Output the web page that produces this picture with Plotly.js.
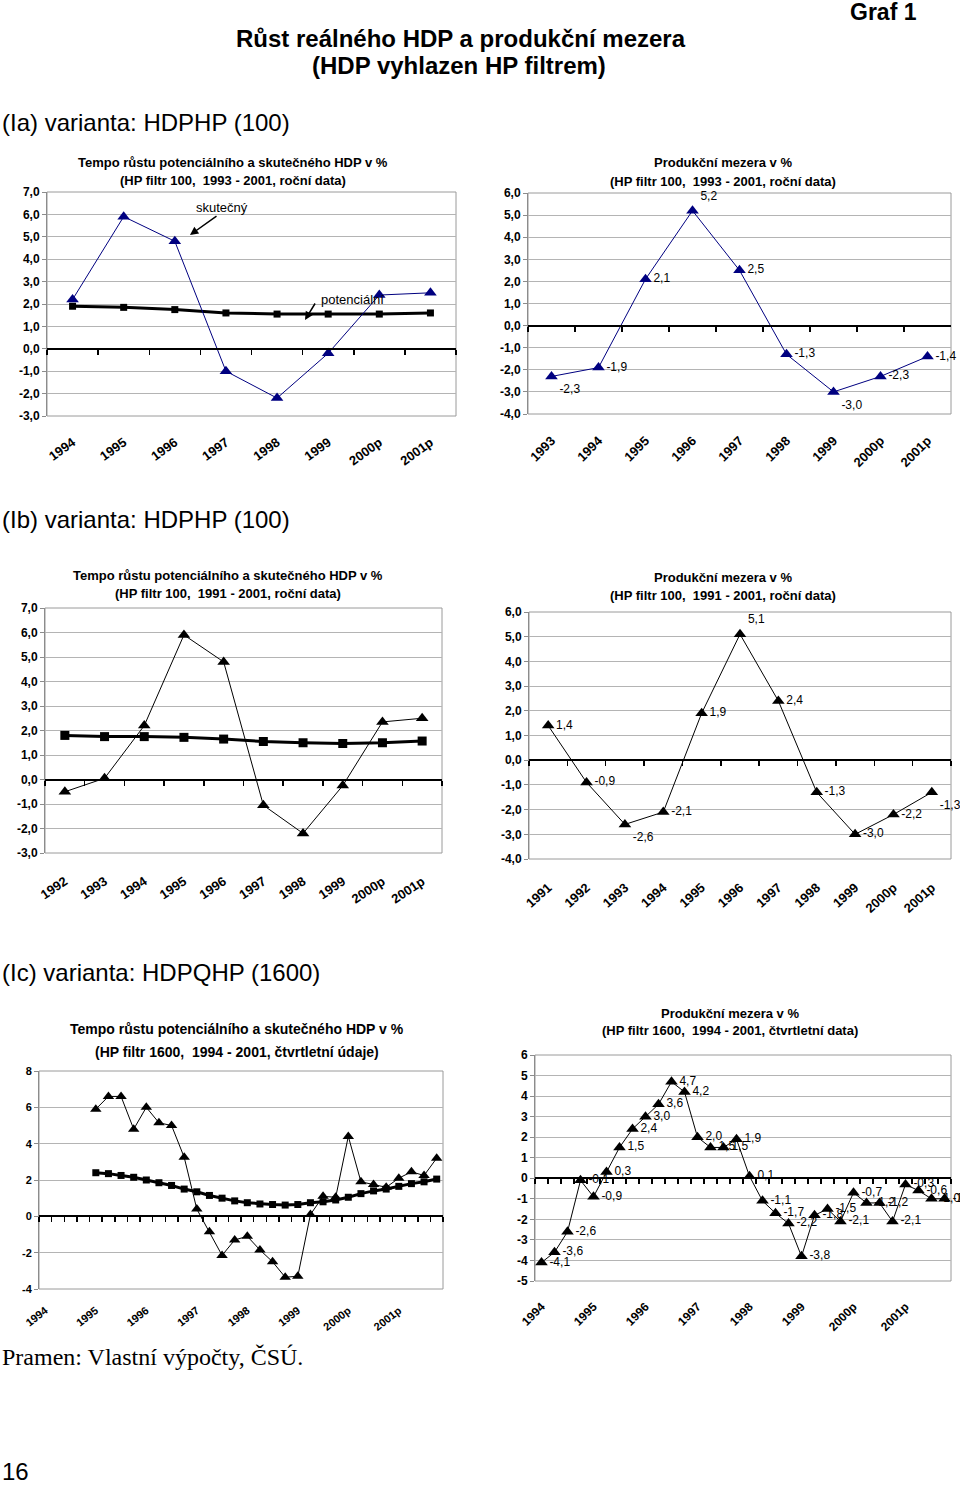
<!DOCTYPE html>
<html><head><meta charset="utf-8">
<script src="https://cdn.plot.ly/plotly-3.0.1.min.js"></script>
<style>html,body{margin:0;padding:0;background:#fff;} #chart{width:960px;height:1485px;}</style>
</head><body><div id="chart"></div>
<script>
// ---------- data ----------
const yearsA = ['1994','1995','1996','1997','1998','1999','2000p','2001p'];
const actualA = [2.2, 5.9, 4.8, -1.0, -2.2, -0.2, 2.4, 2.5];
const potentialA = [1.9, 1.85, 1.75, 1.6, 1.55, 1.55, 1.55, 1.6];

const yearsB = ['1993','1994','1995','1996','1997','1998','1999','2000p','2001p'];
const gapB = [-2.3, -1.9, 2.1, 5.2, 2.5, -1.3, -3.0, -2.3, -1.4];

const yearsC = ['1992','1993','1994','1995','1996','1997','1998','1999','2000p','2001p'];
const actualC = [-0.5, 0.05, 2.2, 5.9, 4.8, -1.05, -2.2, -0.25, 2.35, 2.5];
const potentialC = [1.8, 1.75, 1.75, 1.72, 1.65, 1.55, 1.5, 1.47, 1.5, 1.57];

const yearsD = ['1991','1992','1993','1994','1995','1996','1997','1998','1999','2000p','2001p'];
const gapD = [1.4, -0.9, -2.6, -2.1, 1.9, 5.1, 2.4, -1.3, -3.0, -2.2, -1.3];

const quarters = ['1994Q1','1994Q2','1994Q3','1994Q4','1995Q1','1995Q2','1995Q3','1995Q4',
  '1996Q1','1996Q2','1996Q3','1996Q4','1997Q1','1997Q2','1997Q3','1997Q4',
  '1998Q1','1998Q2','1998Q3','1998Q4','1999Q1','1999Q2','1999Q3','1999Q4',
  '2000Q1','2000Q2','2000Q3','2000Q4','2001Q1','2001Q2','2001Q3','2001Q4'];
const quarterTickText = ['1994','1995','1996','1997','1998','1999','2000p','2001p'];
// quarterly growth, data from 1995Q1
const quartersE = quarters.slice(4);
const actualE = [5.9, 6.6, 6.6, 4.8, 6.0, 5.15, 5.0, 3.25, 0.4, -0.85, -2.15, -1.3, -1.1, -1.85,
  -2.5, -3.35, -3.3, 0.1, 1.1, 1.05, 4.4, 1.9, 1.75, 1.6, 2.1, 2.45, 2.25, 3.2];
const potentialE = [2.4, 2.35, 2.25, 2.15, 2.0, 1.85, 1.7, 1.5, 1.35, 1.15, 1.0, 0.85, 0.75, 0.68,
  0.65, 0.62, 0.65, 0.75, 0.8, 0.9, 1.05, 1.25, 1.4, 1.5, 1.65, 1.8, 1.9, 2.05];
const gapF = [-4.1, -3.6, -2.6, -0.1, -0.9, 0.3, 1.5, 2.4, 3.0, 3.6, 4.7, 4.2, 2.0, 1.5, 1.5, 1.9,
  0.1, -1.1, -1.7, -2.2, -3.8, -1.8, -1.5, -2.1, -0.7, -1.2, -1.2, -2.1, -0.3, -0.6, -1.0, -1.0];

// ---------- helpers ----------
const W = 960, H = 1485;
const SANS = 'Liberation Sans, Arial, sans-serif';
const fmt1 = v => v.toFixed(1).replace('.', ',');
const fmt0 = v => String(v);
const px = x => x / W, py = y => 1 - y / H;
const NAVY = '#000080';

// plot-area boxes in page pixels
const boxes = {
  1: {l:47, r:456, t:192, b:416, yr:[-3,7], dy:1, labTop:432, ang:-36, xfs:13, yfs:12},
  2: {l:528, r:951, t:193, b:414, yr:[-4,6], dy:1, labTop:430, ang:-45, xfs:13, yfs:12},
  3: {l:45, r:442, t:608, b:853, yr:[-3,7], dy:1, labTop:871, ang:-34, xfs:13, yfs:12},
  4: {l:529, r:951, t:612, b:859, yr:[-4,6], dy:1, labTop:877, ang:-42, xfs:13, yfs:12},
  5: {l:39, r:443, t:1071, b:1289, yr:[-4,8], dy:2, labTop:1302, ang:-38, xfs:11, yfs:11},
  6: {l:535, r:951, t:1055, b:1281, yr:[-5,6], dy:1, labTop:1297, ang:-45, xfs:12, yfs:12}
};

const layout = {
  width: W, height: H,
  margin: {l:0, r:0, t:0, b:0},
  paper_bgcolor: '#fff', plot_bgcolor: '#fff',
  showlegend: false,
  font: {family: SANS, color: '#000'},
  annotations: [], shapes: []
};
const helperTraces = [];

function range(a, b, s) { const o = []; for (let v = a; v <= b + 1e-9; v += s) o.push(Math.round(v*10)/10); return o; }

function addAxes(n, cats, quarterly) {
  const b = boxes[n];
  const zeroPx = b.t + (b.yr[1] - 0) / (b.yr[1] - b.yr[0]) * (b.b - b.t);
  const sx = n === 1 ? '' : String(n);
  const lx = String(n + 6);
  // data axis: drawn as the black zero line with boundary ticks
  const xa = {
    domain: [px(b.l), px(b.r)], anchor: 'free', position: py(zeroPx),
    showline: true, linecolor: '#000', linewidth: 2, showgrid: false, zeroline: false,
    showticklabels: false, fixedrange: true, range: [-0.5, cats.length - 0.5]
  };
  if (quarterly) {
    xa.type = 'linear';
    xa.tickvals = [];
    xa.ticks = '';
    xa.minor = {ticks: 'outside', tick0: -0.5, dtick: 1, ticklen: 5, tickcolor: '#000', tickwidth: 1.5, showgrid: false};
  } else {
    xa.type = 'category';
    xa.categoryarray = cats; xa.categoryorder = 'array';
    xa.ticks = 'outside'; xa.tickson = 'boundaries';
    xa.ticklen = 5; xa.tickcolor = '#000'; xa.tickwidth = 1.5;
  }
  // label axis at the bottom of the plot area
  const tvals = cats.map((c, i) => i);
  const la = {
    overlaying: 'x' + sx, anchor: 'y' + sx, type: 'linear', range: [-0.5, cats.length - 0.5],
    showline: false, showgrid: false, zeroline: false, fixedrange: true,
    tickvals: quarterly ? tvals.filter(i => cats[i].endsWith('Q1')) : tvals,
    ticktext: quarterly ? quarterTickText : cats,
    ticks: 'outside', ticklen: Math.max(1, b.labTop - b.b - 3), tickcolor: 'rgba(0,0,0,0)',
    tickangle: b.ang, tickfont: {family: SANS, size: b.xfs, color: '#000', weight: 'bold'}
  };
  const tv = range(b.yr[0], b.yr[1], b.dy);
  const ya = {
    domain: [py(b.b), py(b.t)], anchor: 'x' + sx, range: b.yr,
    tickvals: tv, ticktext: tv.map(n < 5 ? fmt1 : fmt0),
    showgrid: true, gridcolor: '#b4b4b4', gridwidth: 1, zeroline: false,
    showline: true, linecolor: '#8c8c8c', linewidth: 1,
    ticks: 'outside', ticklen: 4, tickcolor: '#8c8c8c',
    tickfont: {family: SANS, size: b.yfs, color: '#000', weight: 'bold'}, fixedrange: true
  };
  layout['xaxis' + sx] = xa;
  layout['xaxis' + lx] = la;
  layout['yaxis' + sx] = ya;
  helperTraces.push({x: [], y: [], type: 'scatter', mode: 'markers', xaxis: 'x' + lx, yaxis: 'y' + sx, hoverinfo: 'skip'});
  layout.shapes.push({type: 'rect', xref: 'paper', yref: 'paper', x0: px(b.l), x1: px(b.r), y0: py(b.b), y1: py(b.t),
    line: {color: '#9a9a9a', width: 1}, fillcolor: 'rgba(0,0,0,0)', layer: 'below'});
}

addAxes(1, yearsA, false);
addAxes(2, yearsB, false);
addAxes(3, yearsC, false);
addAxes(4, yearsD, false);
addAxes(5, quarters, true);
addAxes(6, quarters, true);

const qIndex = q => quarters.indexOf(q);

const traces = [
  // chart 1
  {x: yearsA, y: potentialA, xaxis: 'x', yaxis: 'y', mode: 'lines+markers',
   line: {color: '#000', width: 3}, marker: {symbol: 'square', size: 7, color: '#000'}},
  {x: yearsA, y: actualA, xaxis: 'x', yaxis: 'y', mode: 'lines+markers',
   line: {color: NAVY, width: 1}, marker: {symbol: 'triangle-up', size: 11, color: NAVY}},
  // chart 2
  {x: yearsB, y: gapB, xaxis: 'x2', yaxis: 'y2', mode: 'lines+markers+text', cliponaxis: false,
   line: {color: NAVY, width: 1}, marker: {symbol: 'triangle-up', size: 11, color: NAVY},
   text: gapB.map(fmt1), textfont: {family: SANS, size: 12, color: '#000'},
   textposition: ['bottom right','middle right','middle right','top right','middle right','middle right','bottom right','middle right','middle right']},
  // chart 3
  {x: yearsC, y: potentialC, xaxis: 'x3', yaxis: 'y3', mode: 'lines+markers',
   line: {color: '#000', width: 3}, marker: {symbol: 'square', size: 9, color: '#000'}},
  {x: yearsC, y: actualC, xaxis: 'x3', yaxis: 'y3', mode: 'lines+markers',
   line: {color: '#000', width: 1}, marker: {symbol: 'triangle-up', size: 11, color: '#000'}},
  // chart 4
  {x: yearsD, y: gapD, xaxis: 'x4', yaxis: 'y4', mode: 'lines+markers+text', cliponaxis: false,
   line: {color: '#000', width: 1}, marker: {symbol: 'triangle-up', size: 11, color: '#000'},
   text: gapD.map(fmt1), textfont: {family: SANS, size: 12, color: '#000'},
   textposition: ['middle right','middle right','bottom right','middle right','middle right','top right','middle right','middle right','middle right','middle right','bottom right']},
  // chart 5
  {x: quartersE.map(qIndex), y: potentialE, xaxis: 'x5', yaxis: 'y5', mode: 'lines+markers',
   line: {color: '#000', width: 3}, marker: {symbol: 'square', size: 7, color: '#000'}},
  {x: quartersE.map(qIndex), y: actualE, xaxis: 'x5', yaxis: 'y5', mode: 'lines+markers',
   line: {color: '#000', width: 1}, marker: {symbol: 'triangle-up', size: 10, color: '#000'}},
  // chart 6
  {x: quarters.map(qIndex), y: gapF, xaxis: 'x6', yaxis: 'y6', mode: 'lines+markers+text', cliponaxis: false,
   line: {color: '#000', width: 1}, marker: {symbol: 'triangle-up', size: 11, color: '#000'},
   text: gapF.map(fmt1), textfont: {family: SANS, size: 12, color: '#000'}, textposition: 'middle right'}
];
traces.forEach(t => { t.hoverinfo = 'skip'; });

// ---------- text ----------
function txt(text, x, y, size, opts) {
  opts = opts || {};
  layout.annotations.push({
    text: text, xref: 'paper', yref: 'paper', x: px(x), y: py(y),
    xanchor: opts.xanchor || 'center', yanchor: 'middle', showarrow: false,
    font: {family: opts.family || SANS, size: size, color: '#000', weight: opts.bold ? 'bold' : 'normal'}
  });
}
const SP = '\u00a0 ';
txt('Graf 1', 883, 12, 23, {bold: true});
txt('Růst reálného HDP a produkční mezera', 461, 38, 24, {bold: true});
txt('(HDP vyhlazen HP filtrem)', 459, 66, 24, {bold: true});
txt('(Ia) varianta: HDPHP (100)', 0, 122, 24, {xanchor: 'left'});
txt('(Ib) varianta: HDPHP (100)', 0, 520, 24, {xanchor: 'left'});
txt('(Ic) varianta: HDPQHP (1600)', 0, 972, 24, {xanchor: 'left'});
txt('Pramen: Vlastní výpočty, ČSÚ.', 0, 1357, 24, {xanchor: 'left', family: 'Liberation Serif, Times New Roman, serif'});
txt('16', 0, 1471, 24, {xanchor: 'left'});

// chart titles
txt('Tempo růstu potenciálního a skutečného HDP v %', 233, 163, 13, {bold: true});
txt('(HP filtr 100,' + SP + '1993 - 2001, roční data)', 233, 180, 13, {bold: true});
txt('Produkční mezera v %', 723, 163, 13, {bold: true});
txt('(HP filtr 100,' + SP + '1993 - 2001, roční data)', 723, 182, 13, {bold: true});
txt('Tempo růstu potenciálního a skutečného HDP v %', 228, 575, 13, {bold: true});
txt('(HP filtr 100,' + SP + '1991 - 2001, roční data)', 228, 593, 13, {bold: true});
txt('Produkční mezera v %', 723, 577, 13, {bold: true});
txt('(HP filtr 100,' + SP + '1991 - 2001, roční data)', 723, 595, 13, {bold: true});
txt('Tempo růstu potenciálního a skutečného HDP v %', 237, 1029, 14, {bold: true});
txt('(HP filtr 1600,' + SP + '1994 - 2001, čtvrtletní údaje)', 237, 1052, 14, {bold: true});
txt('Produkční mezera v %', 730, 1013, 13, {bold: true});
txt('(HP filtr 1600,' + SP + '1994 - 2001, čtvrtletní data)', 730, 1030, 13, {bold: true});

// series labels with arrows (chart 1)
txt('skutečný', 222, 207, 13);
txt('potenciální', 352, 300, 13);
layout.annotations.push({text: '', xref: 'paper', yref: 'paper', x: px(190), y: py(235), ax: 28, ay: -20,
  showarrow: true, arrowhead: 2, arrowsize: 1.1, arrowwidth: 1.5, arrowcolor: '#000'});
layout.annotations.push({text: '', xref: 'paper', yref: 'paper', x: px(305), y: py(320), ax: 11, ay: -18,
  showarrow: true, arrowhead: 2, arrowsize: 1.1, arrowwidth: 1.5, arrowcolor: '#000'});

Plotly.newPlot('chart', helperTraces.concat(traces), layout, {staticPlot: true, displayModeBar: false});
</script>
</body></html>
